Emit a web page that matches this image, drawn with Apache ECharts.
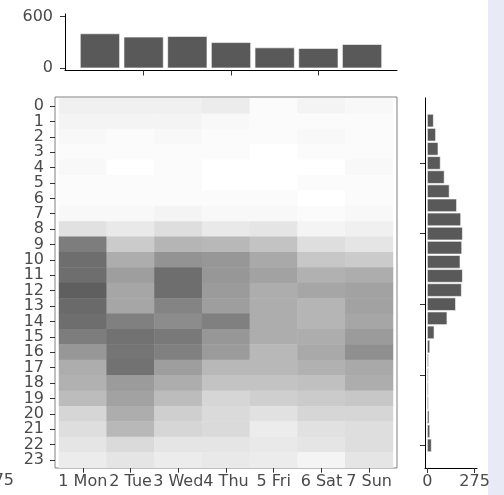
<!DOCTYPE html>
<html><head><meta charset="utf-8">
<script src="https://cdn.jsdelivr.net/npm/echarts@6/dist/echarts.min.js"></script>
<style>html,body{margin:0;padding:0;background:#fff}#c{width:504px;height:495px}</style>
</head><body><div id="c"></div>
<script>
// ---- data ----
const days = ['1 Mon','2 Tue','3 Wed','4 Thu','5 Fri','6 Sat','7 Sun'];
const hours = ['0','1','2','3','4','5','6','7','8','9','10','11','12','13','14','15','16','17','18','19','20','21','22','23'];
// top marginal: totals per day
const dayTotals = [399, 360, 368, 296, 235, 228, 274];
// right marginal: totals per hour (hour 0 .. 23)
const hourTotals = [23, 14, 10, 6, 5, 5, 6, 14, 39, 114, 164, 198, 204, 190, 200, 204, 194, 170, 127, 98, 75, 62, 48, 35];
// heatmap cells, one array per day, hour 0 .. 23
const mon = [4,3,2,1,2,1,1,2,8,35,39,39,43,40,39,35,28,22,21,18,11,9,7,5];
const tue = [4,3,1,1,0,1,1,2,6,14,22,26,24,24,34,38,37,38,27,25,22,19,10,7];
const wed = [4,3,2,1,1,1,1,3,9,20,29,39,39,33,31,36,34,26,22,18,13,11,7,5];
const thu = [5,2,1,1,0,0,1,2,6,19,28,28,27,26,34,28,27,19,16,11,10,10,7,6];
const fri = [1,1,1,0,0,0,1,2,7,16,23,25,22,22,22,22,19,19,16,13,8,5,6,5];
const sat = [3,1,2,1,0,1,0,1,3,9,15,21,24,20,20,22,23,21,17,14,11,8,7,3];
const sun = [2,1,1,1,2,1,1,2,4,7,14,22,25,25,24,27,30,23,22,15,11,9,9,7];
const topTicks = [0, 600];
const rightTicks = [0, 275];

const dayCols = [mon, tue, wed, thu, fri, sat, sun];
const heatData = [];
dayCols.forEach((col, d) => col.forEach((v, h) => heatData.push([d, h, v])));

const FONT = 'DejaVu Sans';
const lab = {color:'#4a4a4a', fontSize:16, fontFamily:FONT};
const BAR = '#595959';
const tick = {color:'#333333', width:1};

const chart = echarts.init(document.getElementById('c'), null, {renderer:'canvas'});
chart.setOption({
  animation:false,
  backgroundColor:'#ffffff',
  grid:[
    {left:65, top:14, width:332, height:56.5},
    {left:55, top:97, width:342, height:371, show:true, borderColor:'#808080', borderWidth:1, backgroundColor:'transparent'},
    {left:59, top:98.3, width:334, height:369.4},
    {left:425, top:98, width:52, height:370}
  ],
  xAxis:[
    {gridIndex:0, type:'value', min:0.2, max:7.8,
     axisLine:{show:true, onZero:false, lineStyle:{color:'#000'}},
     axisTick:{show:true, customValues:[2,4,6], length:5, lineStyle:tick},
     axisLabel:{show:false}, splitLine:{show:false}},
    {gridIndex:1, type:'value', show:false, min:0, max:1},
    {gridIndex:2, type:'category', data:days,
     axisLine:{show:false},
     axisTick:{show:true, alignWithLabel:true, length:5, lineStyle:tick},
     axisLabel:Object.assign({interval:0, margin:6}, lab), splitLine:{show:false}},
    {gridIndex:3, type:'value', min:-13.75, max:288.75,
     axisLine:{show:true, onZero:false, lineStyle:{color:'#000'}},
     axisTick:{show:true, customValues:rightTicks, length:5, lineStyle:tick},
     axisLabel:Object.assign({customValues:rightTicks, margin:6}, lab), splitLine:{show:false}}
  ],
  yAxis:[
    {gridIndex:0, type:'value', min:-30, max:630,
     axisLine:{show:true, onZero:false, lineStyle:{color:'#000'}},
     axisTick:{show:true, customValues:topTicks, length:5, lineStyle:tick},
     axisLabel:Object.assign({customValues:topTicks, margin:12}, lab), splitLine:{show:false}},
    {gridIndex:1, type:'value', show:false, min:0, max:1},
    {gridIndex:2, type:'category', data:hours, inverse:true, offset:4,
     axisLine:{show:false},
     axisTick:{show:true, alignWithLabel:true, length:5, lineStyle:tick},
     axisLabel:Object.assign({interval:0, margin:11}, lab), splitLine:{show:false}},
    {gridIndex:3, type:'value', min:-1.6, max:24.6,
     axisLine:{show:true, onZero:false, lineStyle:{color:'#000'}},
     axisTick:{show:true, customValues:[0,5,10,15,20], length:5, lineStyle:tick},
     axisLabel:{show:false}, splitLine:{show:false}}
  ],
  visualMap:{type:'continuous', show:false, min:0, max:43, dimension:2, seriesIndex:0,
             inRange:{color:['#ffffff','#5f5f5f']}},
  graphic:[
    {type:'rect', shape:{x:488, y:0, width:16, height:495}, style:{fill:'#e8ebf5'}, z:-1},
    {type:'text', x:14, y:481, style:{text:'275', fill:'#4a4a4a', font:'16px "DejaVu Sans"', align:'right', verticalAlign:'middle'}}
  ],
  series:[
    {type:'heatmap', xAxisIndex:2, yAxisIndex:2, data:heatData, itemStyle:{borderWidth:0}, emphasis:{disabled:true}},
    {type:'custom', xAxisIndex:0, yAxisIndex:0,
     data:dayTotals.map((v,i)=>[i+1, v]), encode:{x:0, y:1},
     renderItem:function(p, api){
       const x = api.value(0), y = api.value(1);
       const a = api.coord([x-0.45, y]), b = api.coord([x+0.45, 0]);
       return {type:'rect', shape:{x:a[0], y:a[1], width:b[0]-a[0], height:b[1]-a[1]},
               style:{fill:BAR, stroke:'#ffffff', lineWidth:0.6}};
     }},
    {type:'custom', xAxisIndex:3, yAxisIndex:3,
     data:hourTotals.map((v,h)=>[v, h]), encode:{x:0, y:1},
     renderItem:function(p, api){
       const v = api.value(0), h = api.value(1);
       const a = api.coord([0, h+0.45]), b = api.coord([v, h-0.45]);
       return {type:'rect', shape:{x:a[0], y:a[1], width:b[0]-a[0], height:b[1]-a[1]},
               style:{fill:BAR, stroke:'#ffffff', lineWidth:0.6}};
     }}
  ]
});
</script></body></html>
